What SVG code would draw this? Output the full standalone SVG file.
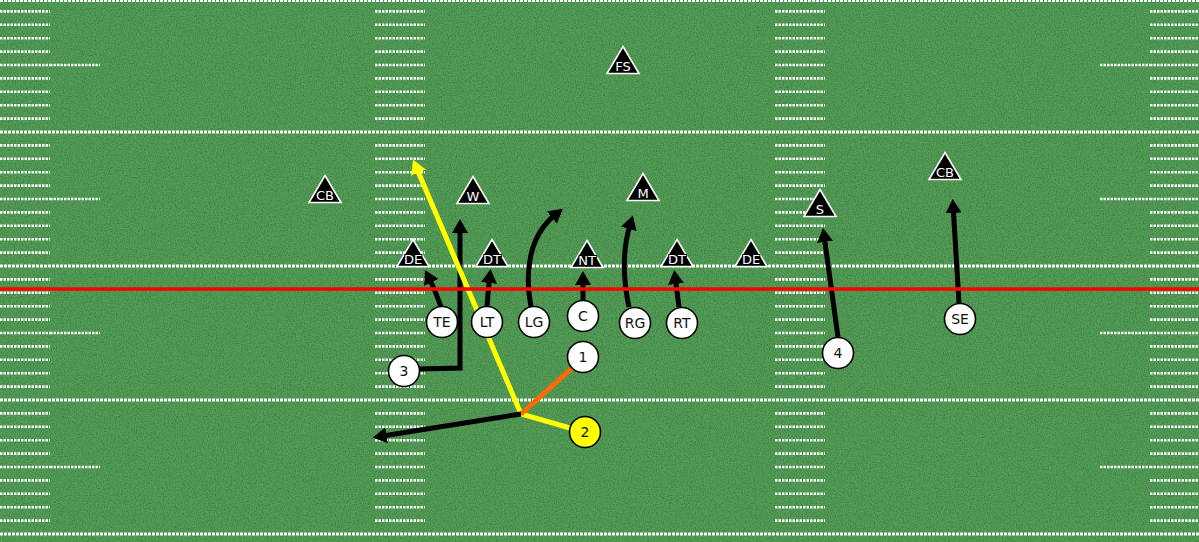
<svg xmlns="http://www.w3.org/2000/svg" xmlns:xlink="http://www.w3.org/1999/xlink" width="1199" height="542" viewBox="0 0 1199 542">
<style>
.hash{stroke:#ffffff;stroke-width:2.6;stroke-dasharray:2.5 1;fill:none;opacity:0.92}
.yard{stroke:#ffffff;stroke-width:3.2;stroke-dasharray:3 1;fill:none;opacity:0.95}
.route{fill:none;stroke:#000000;stroke-width:5;stroke-linejoin:miter}
.tri{fill:#000000;stroke:#ffffff;stroke-width:1.6;stroke-linejoin:miter}
.tl{font-family:"DejaVu Sans",Verdana,sans-serif;font-size:13px;fill:#ffffff;stroke:#000000;stroke-width:2;paint-order:stroke;text-anchor:middle}
.pc{fill:#ffffff;stroke:#000000;stroke-width:1.6}
.pl{font-family:"DejaVu Sans",Verdana,sans-serif;font-size:14px;fill:#111111;text-anchor:middle}
</style>
<defs>
<filter id="noise" x="0" y="0" width="100%" height="100%">
<feTurbulence type="fractalNoise" baseFrequency="0.85" numOctaves="2" seed="4"/>
<feColorMatrix type="matrix" values="0 0 0 0 0  0 0 0 0 0  0 0 0 0 0  0.45 0 0 0 -0.17"/>
</filter>
<marker id="ab" markerUnits="userSpaceOnUse" markerWidth="16" markerHeight="17" refX="4" refY="8" orient="auto"><path d="M0,0 L14,8 L0,16 z" fill="#000000"/></marker>
<marker id="ay" markerUnits="userSpaceOnUse" markerWidth="16" markerHeight="17" refX="4" refY="8" orient="auto"><path d="M0,0 L14,8 L0,16 z" fill="#ffff00"/></marker>
<path id="col" class="hash" d="M0 11.4h50M0 24.8h50M0 38.2h50M0 51.6h50M0 65h50M0 78.4h50M0 91.8h50M0 105.2h50M0 118.6h50M0 145.4h50M0 158.8h50M0 172.2h50M0 185.6h50M0 199h50M0 212.4h50M0 225.8h50M0 239.2h50M0 252.6h50M0 279.4h50M0 292.8h50M0 306.2h50M0 319.6h50M0 333h50M0 346.4h50M0 359.8h50M0 373.2h50M0 386.6h50M0 413.4h50M0 426.8h50M0 440.2h50M0 453.6h50M0 467h50M0 480.4h50M0 493.8h50M0 507.2h50M0 520.6h50"/>
<polygon id="tri" class="tri" points="0,-14.5 16,12.5 -16,12.5"/>
</defs>
<g id="field">
<rect x="0" y="0" width="1199" height="542" fill="#539e56"/>
<rect x="0" y="0" width="1199" height="542" filter="url(#noise)"/>
<use xlink:href="#col" x="0" y="0"/>
<use xlink:href="#col" x="375" y="0"/>
<use xlink:href="#col" x="775" y="0"/>
<use xlink:href="#col" x="1150" y="0"/>
<path class="hash" d="M50 65h50M50 199h50M50 333h50M50 467h50M1100 65h50M1100 199h50M1100 333h50M1100 467h50"/>
<path class="yard" d="M0 0.5h1199M0 132h1199M0 266h1199M0 400h1199M0 534h1199"/>
</g>
<g id="connectors">
<path class="route" marker-end="url(#ab)" d="M441,307 Q435,290 429.5,279"/>
<path class="route" marker-end="url(#ab)" d="M487,307 Q488,292 489.5,279"/>
<path class="route" marker-end="url(#ab)" d="M531,307 C524,270 530,235 555,215"/>
<path class="route" marker-end="url(#ab)" d="M583,300 L583,281"/>
<path class="route" marker-end="url(#ab)" d="M629,307 C621,270 624,245 630,225"/>
<path class="route" marker-end="url(#ab)" d="M679,307 Q677,292 675.5,280"/>
<path class="route" marker-end="url(#ab)" d="M838,337 L824.4,238"/>
<path class="route" marker-end="url(#ab)" d="M959,303 L953.3,209"/>
<path class="route" marker-end="url(#ab)" d="M419,369 L460,368 L460,229"/>
<path class="route" style="stroke:#ffff00" marker-end="url(#ay)" d="M570,428 L521,414 L417,169"/>
<path class="route" style="stroke:#ff6a00" d="M572,368 L521,414"/>
<path class="route" marker-end="url(#ab)" d="M521,414 L382.6,436"/>
</g>
<g id="defense">
<g id="n-fs"><use xlink:href="#tri" x="623" y="61"/><text class="tl" x="623" y="70.5">FS</text></g>
<g id="n-cb1"><use xlink:href="#tri" x="325" y="190"/><text class="tl" x="325" y="199.5">CB</text></g>
<g id="n-w"><use xlink:href="#tri" x="473" y="191"/><text class="tl" x="473" y="200.5">W</text></g>
<g id="n-m"><use xlink:href="#tri" x="643" y="188"/><text class="tl" x="643" y="197.5">M</text></g>
<g id="n-de1"><use xlink:href="#tri" x="413" y="254"/><text class="tl" x="413" y="263.5">DE</text></g>
<g id="n-dt1"><use xlink:href="#tri" x="492" y="254"/><text class="tl" x="492" y="263.5">DT</text></g>
<g id="n-nt"><use xlink:href="#tri" x="587" y="255"/><text class="tl" x="587" y="264.5">NT</text></g>
<g id="n-dt2"><use xlink:href="#tri" x="677" y="254"/><text class="tl" x="677" y="263.5">DT</text></g>
<g id="n-de2"><use xlink:href="#tri" x="751" y="254"/><text class="tl" x="751" y="263.5">DE</text></g>
<g id="n-s"><use xlink:href="#tri" x="820" y="204"/><text class="tl" x="820" y="213.5">S</text></g>
<g id="n-cb2"><use xlink:href="#tri" x="945" y="167"/><text class="tl" x="945" y="176.5">CB</text></g>
</g>
<g id="offense">
<g id="n-te"><circle class="pc" cx="442" cy="322" r="15.5"/><text class="pl" x="442" y="327">TE</text></g>
<g id="n-lt"><circle class="pc" cx="487" cy="322" r="15.5"/><text class="pl" x="487" y="327">LT</text></g>
<g id="n-lg"><circle class="pc" cx="534" cy="322" r="15.5"/><text class="pl" x="534" y="327">LG</text></g>
<g id="n-c"><circle class="pc" cx="583" cy="316" r="15.5"/><text class="pl" x="583" y="321">C</text></g>
<g id="n-rg"><circle class="pc" cx="635" cy="323" r="15.5"/><text class="pl" x="635" y="328">RG</text></g>
<g id="n-rt"><circle class="pc" cx="682" cy="323" r="15.5"/><text class="pl" x="682" y="328">RT</text></g>
<g id="n-se"><circle class="pc" cx="960" cy="319" r="15.5"/><text class="pl" x="960" y="324">SE</text></g>
<g id="n-4"><circle class="pc" cx="838" cy="353" r="15.5"/><text class="pl" x="838" y="358">4</text></g>
<g id="n-3"><circle class="pc" cx="404" cy="371" r="15.5"/><text class="pl" x="404" y="376">3</text></g>
<g id="n-1"><circle class="pc" cx="583" cy="357" r="15.5"/><text class="pl" x="583" y="362">1</text></g>
<g id="n-2"><circle class="pc" cx="585" cy="432" r="15.5" style="fill:#ffff00"/><text class="pl" x="585" y="437">2</text></g>
</g>
<g id="los"><line x1="0" y1="289" x2="1199" y2="289" stroke="#ff0000" stroke-width="3.5"/></g>
</svg>
